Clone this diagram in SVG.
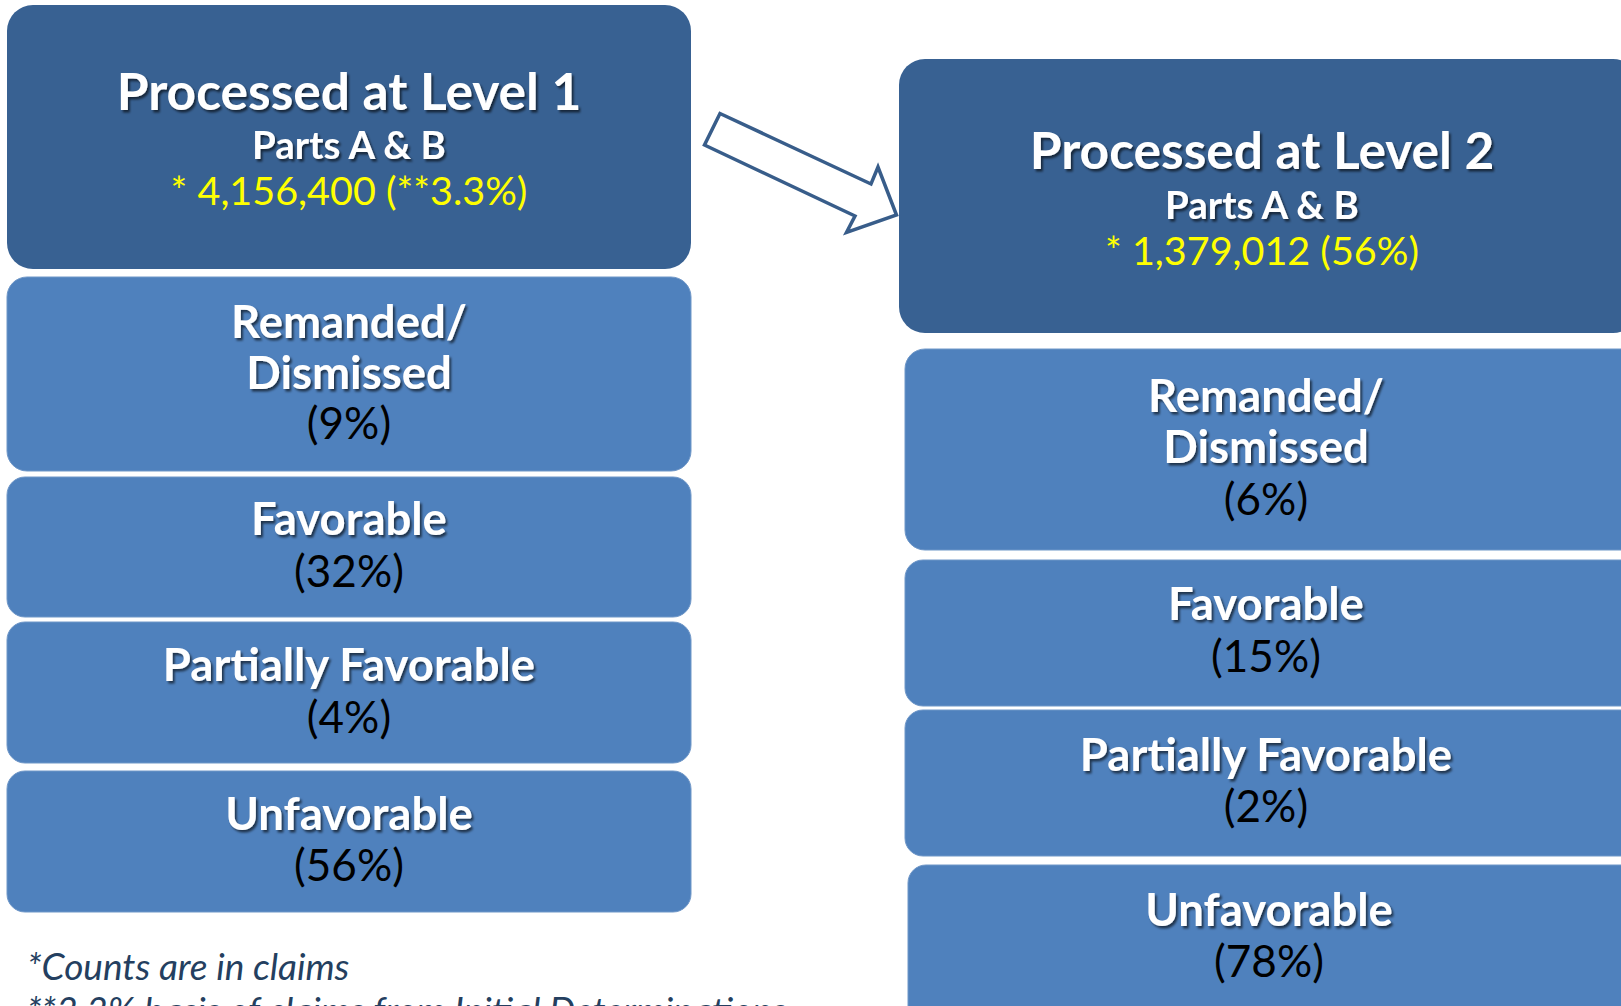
<svg xmlns="http://www.w3.org/2000/svg" width="1621" height="1006" viewBox="0 0 1621 1006">
<defs>
<filter id="sh" x="-10%" y="-20%" width="120%" height="150%">
<feDropShadow dx="2" dy="2.5" stdDeviation="1.3" flood-color="#000" flood-opacity="0.6"/>
</filter>
<style>
.dark{fill:#386192;}
.light{fill:#4F81BD;stroke:#6F97C8;stroke-width:1;}
.title{font-family:Lato,"Open Sans",sans-serif;font-weight:bold;fill:#fff;text-anchor:middle;filter:url(#sh);}
.big{font-size:51.5px;}
.sub{font-size:38.5px;}
.lbl{font-size:45.5px;}
.yel{font-family:Lato,"Open Sans",sans-serif;font-size:39.5px;fill:#FFFF00;text-anchor:middle;}
.pct{font-family:Lato,"Open Sans",sans-serif;font-size:44px;fill:#000;text-anchor:middle;}
.note{font-family:Lato,"Open Sans",sans-serif;font-style:italic;font-size:37px;fill:#243F60;}
</style>
</defs>
<rect width="1621" height="1006" fill="#fff"/>

<g id="level1">
<rect class="dark" x="7" y="5" width="684" height="264" rx="26"/>
<text class="title big" x="349" y="110">Processed at Level 1</text>
<text class="title sub" x="349" y="159">Parts A &amp; B</text>
<text class="yel" x="349" y="205">* 4,156,400 (**3.3%)</text>
</g>
<g id="l1-remanded">
<rect class="light" x="7" y="277" width="684" height="194" rx="20"/>
<text class="title lbl" x="349" y="338">Remanded/</text>
<text class="title lbl" x="349" y="389">Dismissed</text>
<text class="pct" x="349" y="439">(9%)</text>
</g>
<g id="l1-favorable">
<rect class="light" x="7" y="477" width="684" height="140" rx="18"/>
<text class="title lbl" x="349" y="535">Favorable</text>
<text class="pct" x="349" y="587">(32%)</text>
</g>
<g id="l1-partial">
<rect class="light" x="7" y="622" width="684" height="141" rx="18"/>
<text class="title lbl" x="349" y="681">Partially Favorable</text>
<text class="pct" x="349" y="733">(4%)</text>
</g>
<g id="l1-unfavorable">
<rect class="light" x="7" y="771" width="684" height="141" rx="18"/>
<text class="title lbl" x="349" y="830">Unfavorable</text>
<text class="pct" x="349" y="881">(56%)</text>
</g>

<g id="level2">
<rect class="dark" x="899" y="59" width="740" height="274" rx="26"/>
<text class="title big" x="1262" y="169">Processed at Level 2</text>
<text class="title sub" x="1262" y="219">Parts A &amp; B</text>
<text class="yel" x="1262" y="265">* 1,379,012 (56%)</text>
</g>
<g id="l2-remanded">
<rect class="light" x="905" y="349" width="740" height="201" rx="20"/>
<text class="title lbl" x="1266" y="412">Remanded/</text>
<text class="title lbl" x="1266" y="463">Dismissed</text>
<text class="pct" x="1266" y="515">(6%)</text>
</g>
<g id="l2-favorable">
<rect class="light" x="905" y="560" width="740" height="146" rx="18"/>
<text class="title lbl" x="1266" y="620">Favorable</text>
<text class="pct" x="1266" y="672">(15%)</text>
</g>
<g id="l2-partial">
<rect class="light" x="905" y="710" width="740" height="146" rx="18"/>
<text class="title lbl" x="1266" y="771">Partially Favorable</text>
<text class="pct" x="1266" y="822">(2%)</text>
</g>
<g id="l2-unfavorable">
<rect class="light" x="908" y="865" width="740" height="170" rx="18"/>
<text class="title lbl" x="1269" y="926">Unfavorable</text>
<text class="pct" x="1269" y="977">(78%)</text>
</g>

<g id="connectors">
<polygon points="720,113.5 871,184 878,167 896.5,215 846.5,232.5 855,216 704.5,145" fill="#fff" stroke="#385D8A" stroke-width="3.5" stroke-linejoin="miter"/>
</g>

<g id="notes">
<text class="note" x="27" y="980">*Counts are in claims</text>
<text class="note" x="27" y="1024">**3.3% basis of claims from Initial Determinations</text>
</g>
</svg>
